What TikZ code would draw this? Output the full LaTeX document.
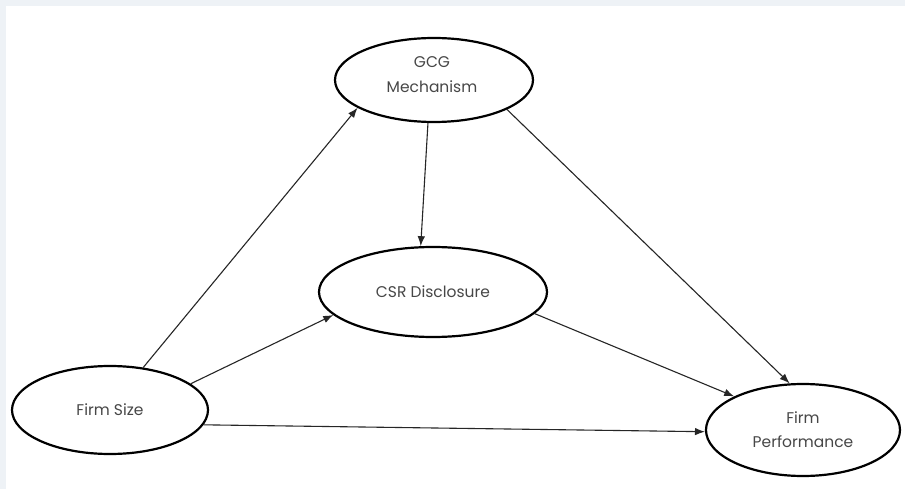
\documentclass[tikz,border=0pt]{standalone}
\usepackage{fontspec}
\setmainfont{Poppins}
\usetikzlibrary{shapes.geometric,arrows.meta}
\definecolor{bgray}{HTML}{EEF2F6}
\definecolor{txt}{HTML}{474747}
\begin{document}
\begin{tikzpicture}[x=1pt,y=-1pt,
  ell/.style={ellipse,draw=black,line width=2.2pt,inner sep=0pt,fill=white,
    text=txt,font=\fontsize{15.5}{24}\selectfont,align=center},
  conn/.style={draw=black!85,line width=1.1pt,-{Latex[length=10pt,width=7.5pt]}}]
\useasboundingbox (0,0) rectangle (905,489);
\fill[bgray] (0,0) rectangle (905,489);
\fill[white] (6,6) rectangle (905,489);
\node[ell,minimum width=198pt,minimum height=84pt] (gcg) at (434,80) {};
\node[text=txt,font=\fontsize{15.5}{25}\selectfont,align=center] (gcgt) at (432,75) {GCG\\Mechanism};
\node[ell,minimum width=228pt,minimum height=90pt] (csr) at (433,292) {CSR Disclosure};
\node[ell,minimum width=196pt,minimum height=88pt] (fs) at (110,410) {Firm Size};
\node[ell,minimum width=194pt,minimum height=92pt] (fp) at (803,430) {Firm\\Performance};
\draw[conn] (fs.52) -- (gcg.200);
\draw[conn] (gcg.262) -- (csr.105);
\draw[conn] (gcg.338) -- (fp.106);
\draw[conn] (fs.18) -- (csr.193);
\draw[conn] (csr.348) -- (fp.154);
\draw[conn] (fs.351) -- (fp.181);
\end{tikzpicture}
\end{document}
